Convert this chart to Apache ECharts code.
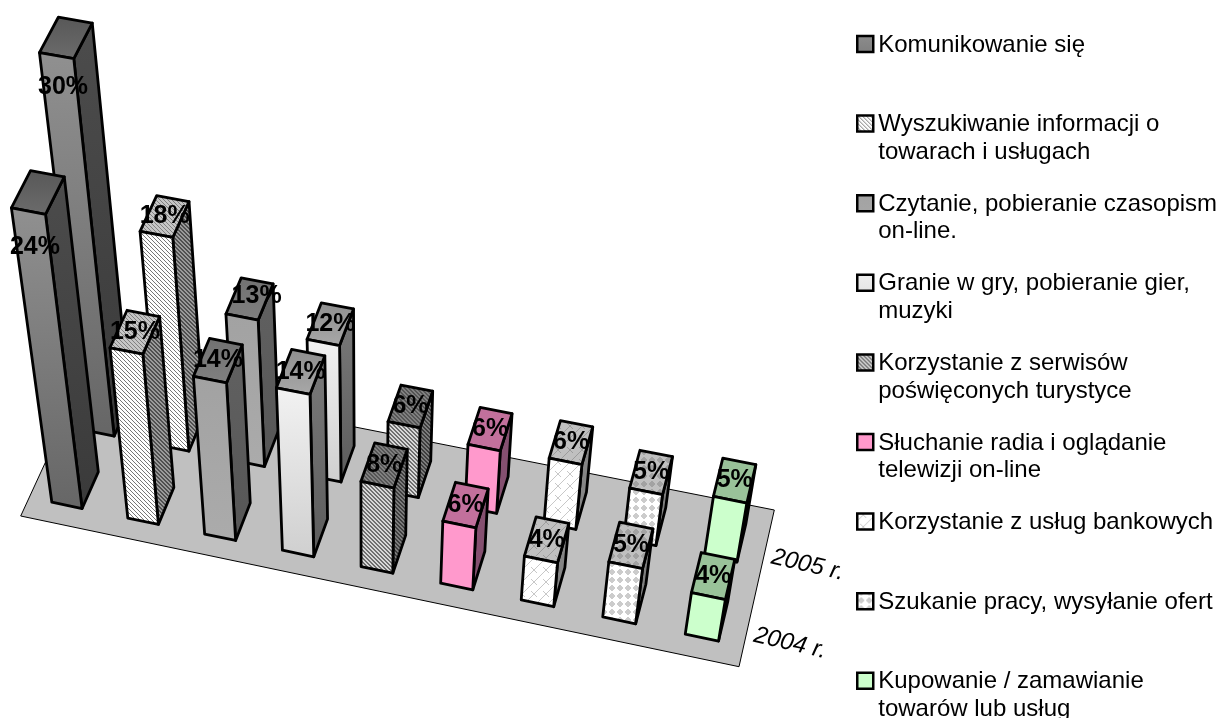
<!DOCTYPE html>
<html><head><meta charset="utf-8">
<style>html,body{margin:0;padding:0;background:#fff}#c{width:1222px;height:718px}</style>
<script src="https://cdn.jsdelivr.net/npm/echarts@6/dist/echarts.min.js"></script>
</head><body><div id="c"></div>
<script>
const categories = [
  'Komunikowanie się',
  'Wyszukiwanie informacji o\ntowarach i usługach',
  'Czytanie, pobieranie czasopism\non-line.',
  'Granie w gry, pobieranie gier,\nmuzyki',
  'Korzystanie z serwisów\npoświęconych turystyce',
  'Słuchanie radia i oglądanie\ntelewizji on-line',
  'Korzystanie z usług bankowych',
  'Szukanie pracy, wysyłanie ofert',
  'Kupowanie / zamawianie\ntowarów lub usług'
];
const years = ['2004 r.', '2005 r.'];
const values2004 = [24.0, 14.6, 13.6, 14.0, 7.6, 5.6, 4.0, 5.0, 3.8];
const values2005 = [29.7, 17.9, 12.6, 11.8, 6.2, 5.6, 5.8, 4.6, 5.3];

const FONT = '"Liberation Sans", Arial, sans-serif';
const W = 900, H = 600, VMAX = 40;
// floor corners and vertical vanishing point of the 3D view
const FLOOR = [[20.7,516],[739,666.7],[774.3,510],[86.2,373.8]];
const VP = [365, 2781], K = -0.004785;
const proj = (function () {
  const [p0,p1,p2,p3] = FLOOR;
  const sx=p0[0]-p1[0]+p2[0]-p3[0], sy=p0[1]-p1[1]+p2[1]-p3[1];
  const dx1=p1[0]-p2[0], dx2=p3[0]-p2[0], dy1=p1[1]-p2[1], dy2=p3[1]-p2[1];
  const det=dx1*dy2-dx2*dy1;
  const g=(sx*dy2-dx2*sy)/det, h=(dx1*sy-sx*dy1)/det;
  const a=p1[0]-p0[0]+g*p1[0], b=p3[0]-p0[0]+h*p3[0], c=p0[0];
  const d=p1[1]-p0[1]+g*p1[1], e=p3[1]-p0[1]+h*p3[1], f=p0[1];
  return function (s,t,z) {
    const q=z*K, w=g*s+h*t+1+q;
    return [(a*s+b*t+c+q*VP[0])/w, (d*s+e*t+f+q*VP[1])/w];
  };
})();

function tile(w,h,bg,draw){
  const c=document.createElement('canvas');c.width=w;c.height=h;
  const x=c.getContext('2d');x.fillStyle=bg;x.fillRect(0,0,w,h);draw(x);
  return {image:c,repeat:'repeat'};
}
function diag(bg,fg,n,lw){return tile(n,n,bg,x=>{x.fillStyle=fg;for(let i=0;i<n;i++){for(let k=0;k<lw;k++)x.fillRect((i+k)%n,i,1,1);}});}
function lattice(bg,fg){return tile(12,12,bg,x=>{x.strokeStyle=fg;x.lineWidth=1;
  x.beginPath();x.moveTo(0,12);x.lineTo(12,0);x.moveTo(-6,6);x.lineTo(0,0);x.moveTo(12,12);x.lineTo(18,6);
  x.moveTo(3,3);x.lineTo(9,9);x.stroke();});}
function dots(bg,fg){return tile(8,8,bg,x=>{x.fillStyle=fg;
  x.fillRect(1,3,6,2);x.fillRect(3,1,2,6);x.fillRect(2,2,4,4);});}
function grad(a,b){return {type:'linear',x:0,y:0,x2:0,y2:1,colorStops:[{offset:0,color:a},{offset:1,color:b}]};}

const faces = [
  {front:grad('#909090','#666666'),side:grad('#4c4c4c','#3a3a3a'),top:grad('#575757','#6c6c6c')},
  {front:diag('#ffffff','#777777',4,1),side:diag('#9a9a9a','#505050',4,2),top:diag('#c6c6c6','#808080',4,1)},
  {front:grad('#a2a2a2','#ababab'),side:grad('#616161','#565656'),top:grad('#717171','#808080')},
  {front:grad('#f2f2f2','#cfcfcf'),side:grad('#7a7a7a','#5c5c5c'),top:grad('#8e8e8e','#a8a8a8')},
  {front:diag('#d8d8d8','#707070',4,2),side:diag('#7c7c7c','#3e3e3e',4,2),top:diag('#808080','#555555',4,2)},
  {front:'#ff99cc',side:'#855070',top:'#c2709c'},
  {front:lattice('#ffffff','#c8c8c8'),side:'#858585',top:lattice('#c0c0c0','#9c9c9c')},
  {front:dots('#ffffff','#cccccc'),side:'#7f7f7f',top:dots('#c0c0c0','#a2a2a2')},
  {front:'#ccffcc',side:'#668066',top:'#99c299'}
];

// hand-placed data labels in the reference: "series-row" -> [dx, dy]
const LABEL_SHIFT = {'0-1':[-3,49],'0-0':[-3,55],'2-1':[7,-3]};

function poly(pts,fill,z2){
  return {type:'polygon',z2:z2,shape:{points:pts},
    style:{fill:fill,stroke:'#000',lineWidth:2.8,lineJoin:'round'}};
}
function renderBar(serIdx){
  return function(params,api){
    const i=api.value(0), v=api.value(1), r=api.value(2);
    const c=api.coord([i,v]);
    const s=c[0]/W, z=(H-c[1])/H*VMAX, hs=api.size([1,0])[0]*0.2/W;
    const t=(r+0.5)/2, ht=0.125, z2=r===1?10:20, f=faces[serIdx];
    const s0=s-hs,s1=s+hs,t0=t-ht,t1=t+ht;
    const A=proj(s0,t0,0),B=proj(s1,t0,0),C=proj(s1,t1,0);
    const At=proj(s0,t0,z),Bt=proj(s1,t0,z),Ct=proj(s1,t1,z),Dt=proj(s0,t1,z);
    const lab=proj(s,t,z), sh=LABEL_SHIFT[serIdx+'-'+r]||[0,0];
    return {type:'group',children:[
      poly([B,C,Ct,Bt],f.side,z2),
      poly([At,Bt,Ct,Dt],f.top,z2+1),
      poly([A,B,Bt,At],f.front,z2+1),
      {type:'text',z2:100,style:{text:Math.round(v)+'%',x:lab[0]+sh[0],y:lab[1]+sh[1],align:'center',verticalAlign:'middle',
        font:'bold 25px '+FONT,fill:'#000'}}
    ]};
  };
}
function renderFloor(){
  const pts=[proj(0,0,0),proj(1,0,0),proj(1,1,0),proj(0,1,0)];
  const kids=[{type:'polygon',z2:1,shape:{points:pts},style:{fill:'#c0c0c0',stroke:'#000',lineWidth:1}}];
  years.forEach((y,r)=>{
    const p=proj(1,(r+0.5)/2,0);
    kids.push({type:'text',z2:2,x:p[0]+6,y:p[1]+9,rotation:-13*Math.PI/180,
      style:{text:y,x:0,y:0,align:'left',verticalAlign:'middle',font:'italic 24px '+FONT,fill:'#000'}});
  });
  return {type:'group',children:kids};
}

const series=[{type:'custom',name:'floor',coordinateSystem:'cartesian2d',silent:true,animation:false,
  data:[[0,0]],renderItem:renderFloor,clip:false}];
categories.forEach((name,i)=>{
  series.push({type:'custom',name:name,coordinateSystem:'cartesian2d',silent:true,animation:false,clip:false,
    encode:{x:0,y:1},renderItem:renderBar(i),
    data:[[i,values2005[i],1],[i,values2004[i],0]]});
});

const ICON='path://M0 0L0 0M0 4.75H16V20.75H0ZM16 55L16 55';
const chart=echarts.init(document.getElementById('c'),null,{renderer:'canvas',width:1222,height:718});
chart.setOption({
  animation:false,
  backgroundColor:'#fff',
  grid:{left:0,top:0,width:W,height:H},
  xAxis:{type:'category',data:categories,show:false},
  yAxis:{type:'value',min:0,max:VMAX,show:false},
  tooltip:{show:false},
  legend:{
    orient:'vertical',left:856,top:30,height:760,padding:0,itemGap:22.1,
    selectedMode:false,itemWidth:16,itemHeight:55,
    formatter:n=>n.indexOf('\n')<0?n+'\n ':n,
    textStyle:{fontFamily:FONT,fontSize:24,lineHeight:27.5,color:'#000'},
    data:categories.map((n,i)=>({name:n,icon:ICON,
      itemStyle:{color:faces[i].front,borderColor:'#000',borderWidth:2.5}}))
  },
  series:series
});
</script></body></html>
